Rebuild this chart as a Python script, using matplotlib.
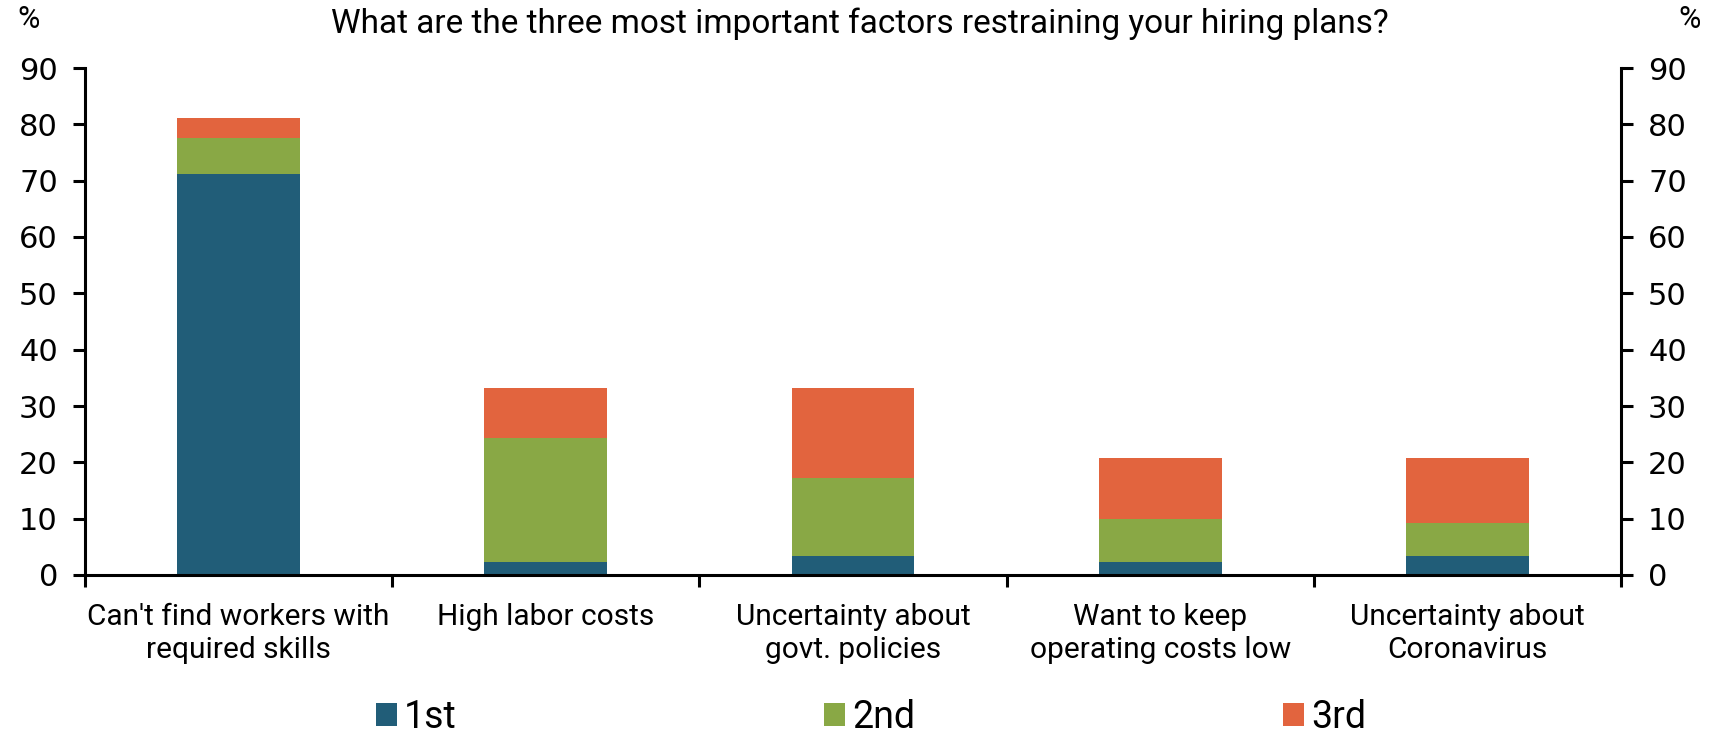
import matplotlib
matplotlib.use("Agg")
import matplotlib.pyplot as plt
import numpy as np

categories = ["Can't find workers with\nrequired skills", "High labor costs",
              "Uncertainty about\ngovt. policies", "Want to keep\noperating costs low",
              "Uncertainty about\nCoronavirus"]
first = [71.1, 2.3, 3.4, 2.3, 3.4]
second = [6.5, 22.1, 13.8, 7.7, 5.9]
third = [3.5, 8.8, 16.0, 10.7, 11.4]
series_names = ["1st", "2nd", "3rd"]
colors = ["#215D78", "#89A845", "#E2643E"]
yticks = [0, 10, 20, 30, 40, 50, 60, 70, 80, 90]
title = "What are the three most important factors restraining your hiring plans?"

plt.rcParams['font.family'] = ['Roboto', 'DejaVu Sans']

W, H = 1721, 733
fig = plt.figure(figsize=(W / 100, H / 100), dpi=100)
ax = fig.add_axes([85 / W, 1 - 575 / H, (1621 - 85) / W, (575 - 68) / H])

x = np.arange(len(categories))
b1 = np.array(first)
b2 = np.array(second)
ax.bar(x, first, width=0.4, color=colors[0], label=series_names[0], zorder=2)
ax.bar(x, second, width=0.4, bottom=b1, color=colors[1], label=series_names[1], zorder=2)
ax.bar(x, third, width=0.4, bottom=b1 + b2, color=colors[2], label=series_names[2], zorder=2)

ax.set_xlim(-0.5, len(categories) - 0.5)
ax.set_ylim(0, 90)
ax.set_yticks(yticks)
ax.set_yticklabels([str(v) for v in yticks], fontfamily='DejaVu Sans')
ax.tick_params(axis='y', labelsize=22, length=8.5, width=2.2, pad=11, direction='out',
               right=True, labelright=True)
ax.set_xticks(x)
ax.set_xticklabels(categories, fontsize=21.5, linespacing=1.25)
ax.tick_params(axis='x', which='major', length=0, pad=20)
ax.set_xticks(np.arange(-0.5, len(categories)), minor=True)
ax.tick_params(axis='x', which='minor', length=8.5, width=2.2, direction='out')

ax.spines['top'].set_visible(False)
for s in ['left', 'right', 'bottom']:
    ax.spines[s].set_linewidth(2.2)

fig.text(860 / W, 1 - 24 / H, title, ha='center', va='center', fontsize=24)
fig.text(29 / W, 1 - 19 / H, "%", ha='center', va='center', fontsize=22)
fig.text(1690 / W, 1 - 19 / H, "%", ha='center', va='center', fontsize=22)

leg = fig.legend(loc='center', bbox_to_anchor=(871 / W, 1 - 717 / H), ncol=3,
                 frameon=False, fontsize=27, handlelength=0.55, handleheight=0.55,
                 handletextpad=0.2, columnspacing=9.8)

fig.savefig("out.png", dpi=100)
